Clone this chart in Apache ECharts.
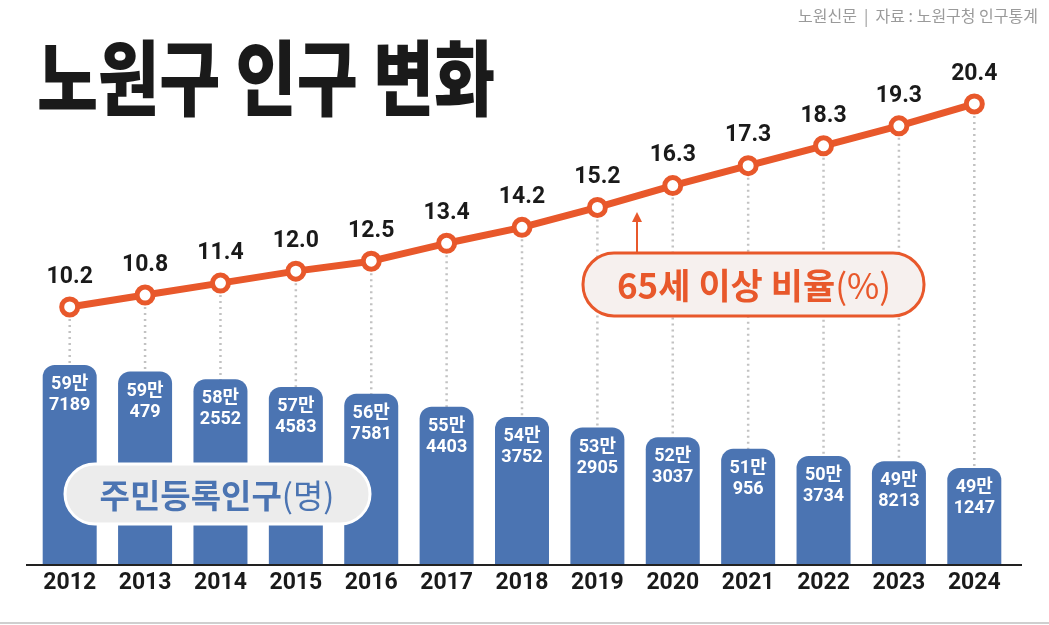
<!DOCTYPE html>
<html>
<head>
<meta charset="utf-8">
<script src="https://cdn.jsdelivr.net/npm/echarts@6/dist/echarts.min.js"></script>
<style>
  html, body { margin: 0; padding: 0; background: #fff; }
  #main { width: 1049px; height: 625px; }
</style>
</head>
<body>
<div id="main"></div>
<script>
// 연도, 주민등록인구(명), 65세 이상 비율(%)
var years = ['2012', '2013', '2014', '2015', '2016', '2017', '2018', '2019', '2020', '2021', '2022', '2023', '2024'];
var population = [597189, 590479, 582552, 574583, 567581, 554403, 543752, 532905, 523037, 510956, 503734, 498213, 491247];
var elderRate = [10.2, 10.8, 11.4, 12.0, 12.5, 13.4, 14.2, 15.2, 16.3, 17.3, 18.3, 19.3, 20.4];

var ORANGE = '#e8582b';
var BLUE = '#4b74b2';
var FONT = "Roboto, 'Noto Sans CJK KR', sans-serif";
var KFONT = "'Noto Sans CJK KR', sans-serif";

var myChart = echarts.init(document.getElementById('main'));

var option = {
  backgroundColor: '#fff',
  animation: false,
  grid: { left: 32, right: 37, top: 60, bottom: 60 },
  xAxis: {
    type: 'category',
    data: years,
    axisLine: { show: false },
    axisTick: { show: false },
    axisLabel: {
      color: '#1a1a1a',
      fontFamily: FONT,
      fontWeight: 'bold',
      fontSize: 23,
      margin: 7
    }
  },
  yAxis: [
    // 막대(인구)
    { type: 'value', min: 391480, max: 911027, show: false },
    // 꺾은선(비율)
    { type: 'value', min: -2.765, max: 22.61, show: false }
  ],
  series: [
    {
      // 점선 (꺾은선 점 -> 막대)
      type: 'custom',
      yAxisIndex: 1,
      z: 1,
      data: years.map(function (y, i) { return [i, elderRate[i]]; }),
      renderItem: function (params, api) {
        var p = api.coord([api.value(0), api.value(1)]);
        var bottom = params.coordSys.y + params.coordSys.height;
        return {
          type: 'line',
          shape: { x1: p[0], y1: p[1], x2: p[0], y2: bottom },
          style: { stroke: '#c2c2c2', lineWidth: 2.5, lineDash: [2, 4] }
        };
      }
    },
    {
      name: '주민등록인구',
      type: 'bar',
      yAxisIndex: 0,
      z: 2,
      barWidth: 54,
      data: population,
      itemStyle: { color: BLUE, borderRadius: [12, 12, 0, 0] },
      label: {
        show: true,
        position: 'insideTop',
        distance: 9,
        color: '#fff',
        fontFamily: FONT,
        fontWeight: 'bold',
        fontSize: 18,
        lineHeight: 21,
        formatter: function (p) {
          return Math.floor(p.value / 10000) + '만\n' + (p.value % 10000);
        }
      }
    },
    {
      name: '65세 이상 비율',
      type: 'line',
      yAxisIndex: 1,
      z: 3,
      data: elderRate,
      symbol: 'circle',
      symbolSize: 16,
      lineStyle: { color: ORANGE, width: 7 },
      itemStyle: { color: '#fff', borderColor: ORANGE, borderWidth: 5 },
      label: {
        show: true,
        position: 'top',
        distance: 8,
        color: '#1a1a1a',
        fontFamily: FONT,
        fontWeight: 'bold',
        fontSize: 23,
        formatter: function (p) { return p.value.toFixed(1); }
      }
    }
  ],
  graphic: [
    // 제목
    {
      type: 'text', x: 37, y: 78, scaleX: 0.81, z: 10,
      style: {
        text: '노원구 인구 변화', fill: '#1a1a1a',
        font: "900 82px 'Noto Sans CJK KR', sans-serif",
        verticalAlign: 'middle'
      }
    },
    // 출처
    {
      type: 'text', x: 1038, y: 16, z: 10,
      style: {
        text: '노원신문  |  자료 : 노원구청 인구통계', fill: '#9a9a9a',
        font: "16px 'Noto Sans CJK KR', sans-serif",
        align: 'right', verticalAlign: 'middle'
      }
    },
    // x축 선
    {
      type: 'line', z: 10,
      shape: { x1: 26, y1: 565, x2: 1022, y2: 565 },
      style: { stroke: '#222', lineWidth: 2 }
    },
    // 하단 회색 선
    {
      type: 'line', z: 10,
      shape: { x1: 0, y1: 623, x2: 1049, y2: 623 },
      style: { stroke: '#cfcfcf', lineWidth: 2 }
    },
    // 화살표
    {
      type: 'line', z: 10,
      shape: { x1: 637, y1: 253, x2: 637, y2: 220 },
      style: { stroke: ORANGE, lineWidth: 2 }
    },
    {
      type: 'polygon', z: 10,
      shape: { points: [[637, 212], [632, 222], [642, 222]] },
      style: { fill: ORANGE }
    },
    // 65세 이상 비율 라벨
    {
      type: 'rect', z: 10,
      shape: { x: 583, y: 253, width: 341, height: 63, r: 31 },
      style: { fill: '#f6f0ee', stroke: ORANGE, lineWidth: 3 }
    },
    {
      type: 'text', x: 754, y: 286, z: 11,
      style: {
        text: '{a|65세 이상 비율}{b|(%)}',
        align: 'center', verticalAlign: 'middle',
        rich: {
          a: { fill: ORANGE, fontFamily: KFONT, fontWeight: 'bold', fontSize: 35 },
          b: { fill: ORANGE, fontFamily: KFONT, fontWeight: 'normal', fontSize: 35 }
        }
      }
    },
    // 주민등록인구 라벨
    {
      type: 'rect', z: 10,
      shape: { x: 65, y: 464, width: 305, height: 60, r: 30 },
      style: { fill: '#ececec', stroke: '#fff', lineWidth: 3 }
    },
    {
      type: 'text', x: 217, y: 495, z: 11,
      style: {
        text: '{a|주민등록인구}{b|(명)}',
        align: 'center', verticalAlign: 'middle',
        rich: {
          a: { fill: BLUE, fontFamily: KFONT, fontWeight: 'bold', fontSize: 33 },
          b: { fill: BLUE, fontFamily: KFONT, fontWeight: 'normal', fontSize: 33 }
        }
      }
    }
  ]
};

myChart.setOption(option);
</script>
</body>
</html>
